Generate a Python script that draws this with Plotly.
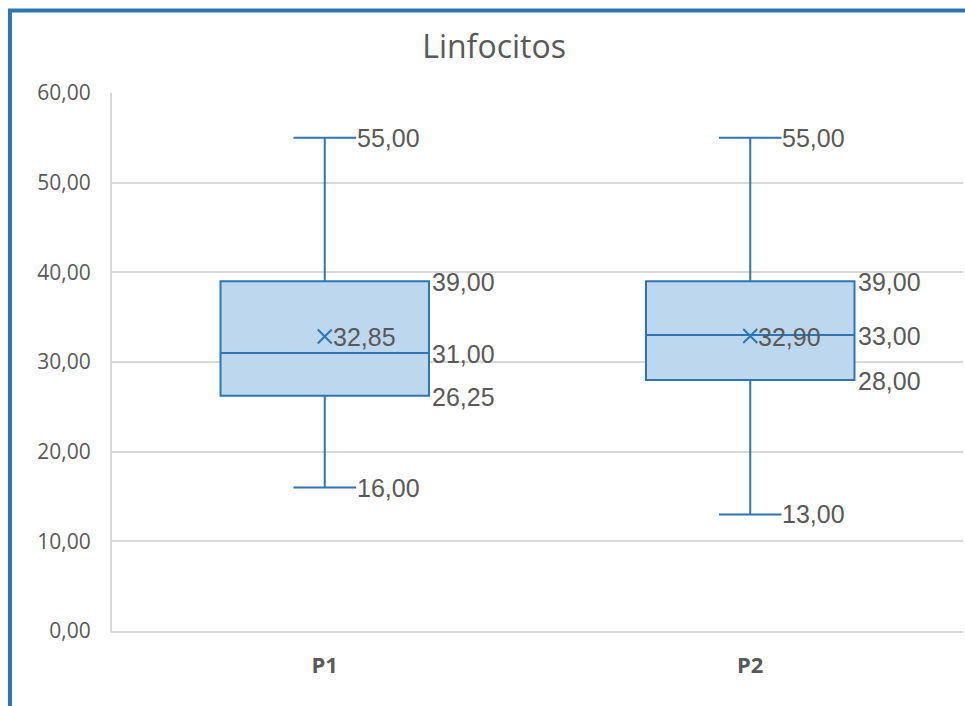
import plotly.graph_objects as go

# Box-plot summary for each group
categories = ["P1", "P2"]
minimum = [16.00, 13.00]
q1 = [26.25, 28.00]
median = [31.00, 33.00]
q3 = [39.00, 39.00]
maximum = [55.00, 55.00]
mean = [32.85, 32.90]

y_ticks = [0, 10, 20, 30, 40, 50, 60]

BLUE = "#2E75B6"
FILL = "#BDD7EE"
GREY = "#595959"
GRID = "#D9D9D9"

def fmt(v):
    return f"{v:.2f}".replace(".", ",")

xs = list(range(len(categories)))

fig = go.Figure()
fig.add_trace(go.Box(
    x=xs, q1=q1, median=median, q3=q3,
    lowerfence=minimum, upperfence=maximum,
    fillcolor=FILL, line=dict(color=BLUE, width=2),
    whiskerwidth=0.3, boxpoints=False, hoverinfo="skip",
    showlegend=False,
))
fig.add_trace(go.Scatter(
    x=xs, y=mean, mode="markers",
    marker=dict(symbol="x-thin", size=14, line=dict(color=BLUE, width=2)),
    showlegend=False, hoverinfo="skip",
))

lab_font = dict(family="Liberation Sans, Arial", size=25, color=GREY)
annotations = []
for i in xs:
    # whisker-end labels, just right of the caps
    for v in (minimum[i], maximum[i]):
        annotations.append(dict(x=i + 0.075, y=v, text=fmt(v), xanchor="left",
                                yanchor="middle", showarrow=False, font=lab_font, xshift=-2))
    # quartile / median labels at the right edge of the box
    for v in (q1[i], median[i], q3[i]):
        annotations.append(dict(x=i + 0.25, y=v, text=fmt(v), xanchor="left",
                                yanchor="middle", showarrow=False, font=lab_font, xshift=-1, yshift=-1))
    # mean label beside the marker
    annotations.append(dict(x=i, y=mean[i], text=fmt(mean[i]), xanchor="left",
                            yanchor="middle", showarrow=False, font=lab_font, xshift=6, yshift=-1))

# chart border along the top and left edges
shapes = [dict(type="path", xref="paper", yref="paper",
               path="M -0.1199,-0.2 L -0.1199,1.1533 L 1.2,1.1533",
               line=dict(color=BLUE, width=4))]

fig.update_layout(
    width=965, height=706,
    margin=dict(l=112, r=2, t=93, b=75),
    paper_bgcolor="white", plot_bgcolor="white",
    title=dict(text="Linfocitos", x=0.512, xanchor="center", y=0.934, yanchor="middle",
               font=dict(family="Open Sans", size=32, color=GREY)),
    xaxis=dict(range=[-0.5, 1.5], tickvals=xs, ticktext=categories,
               showgrid=False, zeroline=False, showline=True, linecolor=GRID, linewidth=2,
               ticks="", ticklabelstandoff=14,
               tickfont=dict(family="Open Sans", size=22, color=GREY, weight="bold")),
    yaxis=dict(range=[0, 60], tickvals=y_ticks,
               ticktext=[fmt(v) for v in y_ticks],
               showgrid=True, gridcolor=GRID, gridwidth=2, zeroline=False,
               showline=True, linecolor=GRID, linewidth=2,
               ticks="", ticklabelstandoff=15,
               tickfont=dict(family="Open Sans", size=21, color=GREY)),
    annotations=annotations,
    shapes=shapes,
)

fig.write_html("out.html")
